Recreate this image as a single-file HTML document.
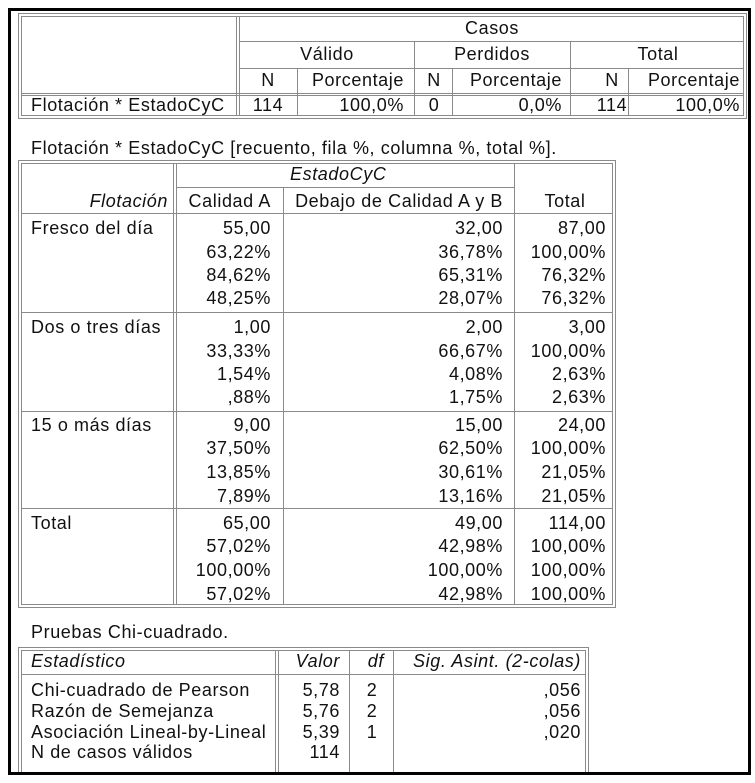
<!DOCTYPE html>
<html><head><meta charset="utf-8"><style>
html,body{margin:0;padding:0;background:#fff;}
svg{display:block;}
text{font-family:"Liberation Sans",sans-serif;font-size:18px;fill:#111;letter-spacing:0.6px;}
.i{font-style:italic;}
.r{text-anchor:end;}
.c{text-anchor:middle;}
line,rect{stroke:#8a8a8a;stroke-width:1;fill:none;}
</style></head><body>
<svg width="755" height="783" viewBox="0 0 755 783" xmlns="http://www.w3.org/2000/svg">
<rect x="0" y="0" width="755" height="783" style="fill:#fff;stroke:none"/>

<!-- TABLE 1 -->
<rect x="18.5" y="13.5" width="728" height="105"/>
<rect x="21.5" y="16.5" width="722" height="99"/>
<line x1="236.5" y1="16" x2="236.5" y2="116"/>
<line x1="239.5" y1="16" x2="239.5" y2="116"/>
<line x1="21" y1="93.5" x2="744" y2="93.5"/>
<line x1="21" y1="95.5" x2="744" y2="95.5"/>
<line x1="240" y1="41.5" x2="744" y2="41.5"/>
<line x1="240" y1="68.5" x2="744" y2="68.5"/>
<line x1="414.5" y1="42" x2="414.5" y2="116"/>
<line x1="570.5" y1="42" x2="570.5" y2="116"/>
<line x1="297.5" y1="69" x2="297.5" y2="116"/>
<line x1="452.5" y1="69" x2="452.5" y2="116"/>
<line x1="628.5" y1="69" x2="628.5" y2="116"/>
<text x="492" y="34" class="c">Casos</text>
<text x="327" y="60" class="c">Válido</text>
<text x="492" y="60" class="c">Perdidos</text>
<text x="658" y="60" class="c">Total</text>
<text x="268" y="86" class="c">N</text>
<text x="404" y="86" class="r">Porcentaje</text>
<text x="434" y="86" class="c">N</text>
<text x="562" y="86" class="r">Porcentaje</text>
<text x="612" y="86" class="c">N</text>
<text x="740" y="86" class="r">Porcentaje</text>
<text x="31" y="111">Flotación * EstadoCyC</text>
<text x="268" y="111" class="c">114</text>
<text x="404" y="111" class="r">100,0%</text>
<text x="434" y="111" class="c">0</text>
<text x="562" y="111" class="r">0,0%</text>
<text x="612" y="111" class="c">114</text>
<text x="740" y="111" class="r">100,0%</text>

<!-- TABLE 2 -->
<text x="31" y="154">Flotación * EstadoCyC [recuento, fila %, columna %, total %].</text>
<rect x="18.5" y="160.5" width="597" height="447"/>
<rect x="21.5" y="163.5" width="591" height="441"/>
<line x1="173.5" y1="163" x2="173.5" y2="605"/>
<line x1="176.5" y1="163" x2="176.5" y2="605"/>
<line x1="177" y1="187.5" x2="514" y2="187.5"/>
<line x1="22" y1="213.5" x2="612" y2="213.5"/>
<line x1="283.5" y1="188" x2="283.5" y2="605"/>
<line x1="514.5" y1="163" x2="514.5" y2="605"/>
<line x1="22" y1="312.5" x2="612" y2="312.5"/>
<line x1="22" y1="411.5" x2="612" y2="411.5"/>
<line x1="22" y1="508.5" x2="612" y2="508.5"/>
<text x="290" y="180" class="i">EstadoCyC</text>
<text x="168" y="207" class="r i">Flotación</text>
<text x="271" y="207" class="r">Calidad A</text>
<text x="503" y="207" class="r">Debajo de Calidad A y B</text>
<text x="565" y="207" class="c">Total</text>

<g>
<text x="31" y="234">Fresco del día</text>
<text x="271" y="234" class="r">55,00</text><text x="503" y="234" class="r">32,00</text><text x="606" y="234" class="r">87,00</text>
<text x="271" y="258" class="r">63,22%</text><text x="503" y="258" class="r">36,78%</text><text x="606" y="258" class="r">100,00%</text>
<text x="271" y="281" class="r">84,62%</text><text x="503" y="281" class="r">65,31%</text><text x="606" y="281" class="r">76,32%</text>
<text x="271" y="304" class="r">48,25%</text><text x="503" y="304" class="r">28,07%</text><text x="606" y="304" class="r">76,32%</text>
</g>
<g>
<text x="31" y="333">Dos o tres días</text>
<text x="271" y="333" class="r">1,00</text><text x="503" y="333" class="r">2,00</text><text x="606" y="333" class="r">3,00</text>
<text x="271" y="357" class="r">33,33%</text><text x="503" y="357" class="r">66,67%</text><text x="606" y="357" class="r">100,00%</text>
<text x="271" y="380" class="r">1,54%</text><text x="503" y="380" class="r">4,08%</text><text x="606" y="380" class="r">2,63%</text>
<text x="271" y="403" class="r">,88%</text><text x="503" y="403" class="r">1,75%</text><text x="606" y="403" class="r">2,63%</text>
</g>
<g>
<text x="31" y="431">15 o más días</text>
<text x="271" y="431" class="r">9,00</text><text x="503" y="431" class="r">15,00</text><text x="606" y="431" class="r">24,00</text>
<text x="271" y="454" class="r">37,50%</text><text x="503" y="454" class="r">62,50%</text><text x="606" y="454" class="r">100,00%</text>
<text x="271" y="478" class="r">13,85%</text><text x="503" y="478" class="r">30,61%</text><text x="606" y="478" class="r">21,05%</text>
<text x="271" y="502" class="r">7,89%</text><text x="503" y="502" class="r">13,16%</text><text x="606" y="502" class="r">21,05%</text>
</g>
<g>
<text x="31" y="529">Total</text>
<text x="271" y="529" class="r">65,00</text><text x="503" y="529" class="r">49,00</text><text x="606" y="529" class="r">114,00</text>
<text x="271" y="552" class="r">57,02%</text><text x="503" y="552" class="r">42,98%</text><text x="606" y="552" class="r">100,00%</text>
<text x="271" y="576" class="r">100,00%</text><text x="503" y="576" class="r">100,00%</text><text x="606" y="576" class="r">100,00%</text>
<text x="271" y="600" class="r">57,02%</text><text x="503" y="600" class="r">42,98%</text><text x="606" y="600" class="r">100,00%</text>
</g>

<!-- TABLE 3 -->
<text x="31" y="638">Pruebas Chi-cuadrado.</text>
<line x1="18.5" y1="647.5" x2="588.5" y2="647.5"/>
<line x1="21.5" y1="650.5" x2="585.5" y2="650.5"/>
<line x1="18.5" y1="647" x2="18.5" y2="772"/>
<line x1="21.5" y1="650" x2="21.5" y2="772"/>
<line x1="588.5" y1="647" x2="588.5" y2="772"/>
<line x1="585.5" y1="650" x2="585.5" y2="772"/>
<line x1="22" y1="674.5" x2="585" y2="674.5"/>
<line x1="275.5" y1="650" x2="275.5" y2="772"/>
<line x1="278.5" y1="650" x2="278.5" y2="772"/>
<line x1="349.5" y1="650" x2="349.5" y2="772"/>
<line x1="393.5" y1="650" x2="393.5" y2="772"/>
<text x="31" y="667" class="i">Estadístico</text>
<text x="340" y="667" class="r i">Valor</text>
<text x="384" y="667" class="r i">df</text>
<text x="581" y="667" class="r i">Sig. Asint. (2-colas)</text>
<text x="31" y="696">Chi-cuadrado de Pearson</text>
<text x="340" y="696" class="r">5,78</text><text x="372" y="696" class="c">2</text><text x="581" y="696" class="r">,056</text>
<text x="31" y="717">Razón de Semejanza</text>
<text x="340" y="717" class="r">5,76</text><text x="372" y="717" class="c">2</text><text x="581" y="717" class="r">,056</text>
<text x="31" y="738">Asociación Lineal-by-Lineal</text>
<text x="340" y="738" class="r">5,39</text><text x="372" y="738" class="c">1</text><text x="581" y="738" class="r">,020</text>
<text x="31" y="758">N de casos válidos</text>
<text x="340" y="758" class="r">114</text>
<rect x="9.5" y="9.5" width="740" height="764" style="stroke:#000;stroke-width:3"/>
</svg>
</body></html>
